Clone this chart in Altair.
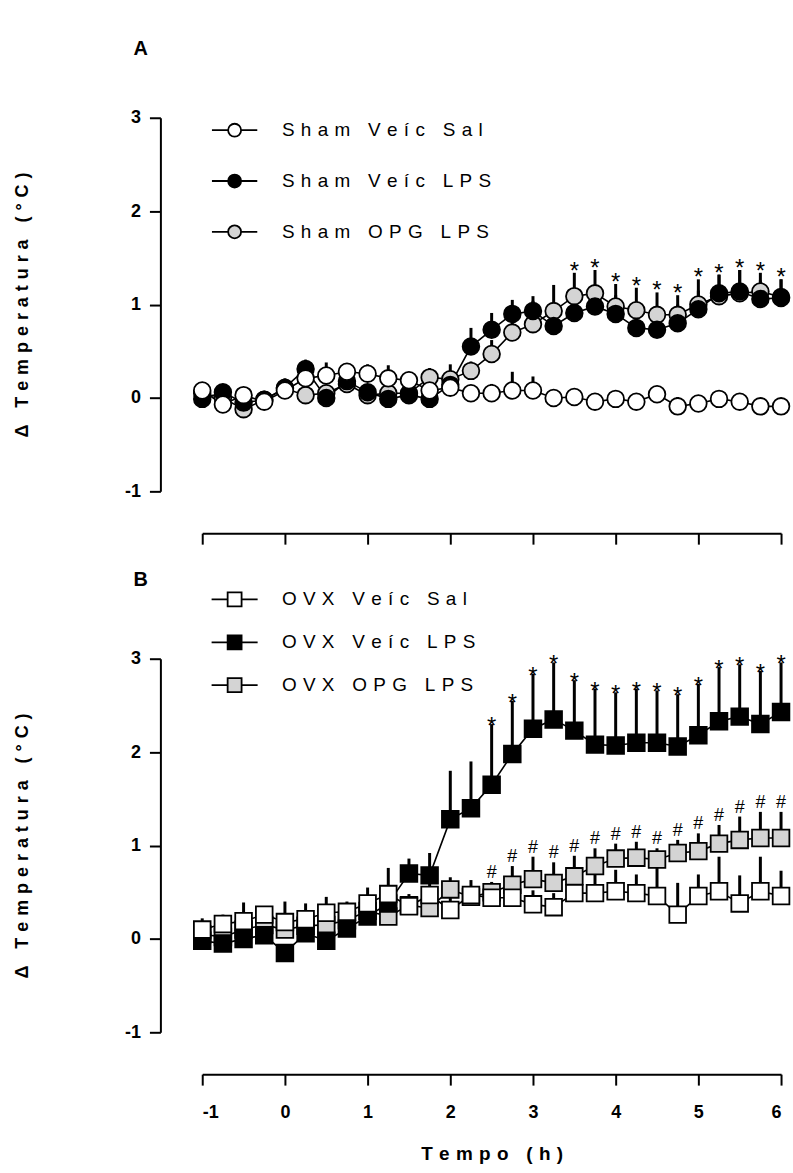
import altair as alt
import pandas as pd

# ---------------- data ----------------
time_h = [-1.0, -0.75, -0.5, -0.25, 0.0, 0.25, 0.5, 0.75, 1.0, 1.25, 1.5, 1.75, 2.0, 2.25,
          2.5, 2.75, 3.0, 3.25, 3.5, 3.75, 4.0, 4.25, 4.5, 4.75, 5.0, 5.25, 5.5, 5.75, 6.0]

names_a = ["Sham Veíc Sal", "Sham Veíc LPS", "Sham OPG LPS"]
names_b = ["OVX Veíc Sal", "OVX Veíc LPS", "OVX OPG LPS"]

sham_sal = [0.08, -0.07, 0.03, -0.04, 0.08, 0.21, 0.24, 0.28, 0.26, 0.21, 0.19, 0.08, 0.11, 0.05,
            0.05, 0.08, 0.08, 0.00, 0.01, -0.04, -0.01, -0.04, 0.04, -0.09, -0.06, -0.01, -0.04, -0.09, -0.09]
sham_sal_sem = [0.05, 0.03, 0.04, 0.03, 0.10, 0.08, 0.14, 0.08, 0.10, 0.14, 0.08, 0.08, 0.10, 0.06,
                0.10, 0.20, 0.15, 0.03, 0.03, 0.04, 0.03, 0.03, 0.03, 0.10, 0.08, 0.03, 0.03, 0.03, 0.03]
sham_lps = [-0.01, 0.06, -0.05, -0.02, 0.11, 0.31, 0.00, 0.18, 0.06, -0.01, 0.03, -0.01, 0.14, 0.55,
            0.73, 0.90, 0.93, 0.77, 0.91, 0.98, 0.90, 0.75, 0.73, 0.80, 0.95, 1.12, 1.14, 1.06, 1.07]
sham_lps_sem = [0.03, 0.05, 0.05, 0.03, 0.10, 0.10, 0.08, 0.10, 0.08, 0.08, 0.05, 0.05, 0.10, 0.20,
                0.18, 0.15, 0.16, 0.15, 0.20, 0.20, 0.20, 0.20, 0.20, 0.20, 0.20, 0.20, 0.23, 0.20, 0.20]
sham_opg = [0.05, 0.00, -0.12, -0.02, 0.10, 0.03, 0.05, 0.15, 0.03, 0.05, 0.05, 0.22, 0.20, 0.29,
            0.47, 0.70, 0.79, 0.93, 1.09, 1.12, 0.98, 0.94, 0.89, 0.89, 1.00, 1.09, 1.12, 1.14, 1.08]
sham_opg_sem = [0.05, 0.05, 0.05, 0.05, 0.08, 0.05, 0.08, 0.08, 0.05, 0.05, 0.08, 0.10, 0.16, 0.10,
                0.15, 0.20, 0.25, 0.28, 0.25, 0.25, 0.24, 0.24, 0.24, 0.21, 0.27, 0.23, 0.25, 0.20, 0.19]
sham_star_t = [3.5, 3.75, 4.0, 4.25, 4.5, 4.75, 5.0, 5.25, 5.5, 5.75, 6.0]

ovx_sal = [0.10, 0.16, 0.19, 0.26, 0.18, 0.21, 0.28, 0.29, 0.38, 0.48, 0.35, 0.47, 0.31, 0.47,
           0.44, 0.44, 0.37, 0.34, 0.49, 0.49, 0.51, 0.49, 0.46, 0.26, 0.46, 0.51, 0.38, 0.51, 0.46]
ovx_sal_sem = [0.12, 0.10, 0.20, 0.06, 0.22, 0.17, 0.17, 0.11, 0.17, 0.28, 0.13, 0.16, 0.15, 0.16,
               0.10, 0.10, 0.15, 0.15, 0.20, 0.20, 0.23, 0.20, 0.30, 0.34, 0.23, 0.37, 0.30, 0.37, 0.27]
ovx_lps = [-0.02, -0.05, 0.00, 0.04, -0.15, 0.06, -0.02, 0.11, 0.24, 0.38, 0.70, 0.68, 1.28, 1.40,
           1.65, 1.98, 2.25, 2.35, 2.23, 2.08, 2.07, 2.10, 2.10, 2.06, 2.18, 2.33, 2.38, 2.30, 2.43]
ovx_lps_sem = [0.05, 0.05, 0.05, 0.05, 0.08, 0.06, 0.05, 0.05, 0.06, 0.08, 0.16, 0.24, 0.52, 0.50,
               0.65, 0.57, 0.59, 0.61, 0.54, 0.60, 0.57, 0.58, 0.56, 0.56, 0.55, 0.58, 0.56, 0.57, 0.53]
ovx_opg = [0.05, 0.02, 0.10, 0.15, 0.10, 0.14, 0.15, 0.20, 0.30, 0.24, 0.36, 0.33, 0.53, 0.45,
           0.50, 0.58, 0.64, 0.60, 0.67, 0.78, 0.86, 0.87, 0.85, 0.92, 0.94, 1.02, 1.06, 1.08, 1.08]
ovx_opg_sem = [0.05, 0.05, 0.05, 0.05, 0.05, 0.05, 0.05, 0.05, 0.05, 0.05, 0.05, 0.05, 0.13, 0.10,
               0.11, 0.20, 0.24, 0.22, 0.22, 0.19, 0.16, 0.17, 0.12, 0.14, 0.19, 0.20, 0.25, 0.28, 0.28]
ovx_star_t = [2.5, 2.75, 3.0, 3.25, 3.5, 3.75, 4.0, 4.25, 4.5, 4.75, 5.0, 5.25, 5.5, 5.75, 6.0]
ovx_hash_t = [2.5, 2.75, 3.0, 3.25, 3.5, 3.75, 4.0, 4.25, 4.5, 4.75, 5.0, 5.25, 5.5, 5.75, 6.0]

x_ticks = [-1, 0, 1, 2, 3, 4, 5, 6]
y_ticks = [-1, 0, 1, 2, 3]

# ---------------- style ----------------
FONT = "Liberation Sans"
FILLS = ["white", "black", "#d4d4d4"]
SP = "\u2004"
YTITLE = SP.join(list("Δ Temperatura (°C)"))
XTITLE = SP.join(list("Tempo (h)"))
LEG_LABEL = "join(split(datum.label, ''), '\u2004')"

CIRCLE_LEG = "M-3.5,0L-1,0M1,0L3.5,0M1,0A1,1,0,1,1,-1,0A1,1,0,1,1,1,0Z"
SQUARE_LEG = "M-3.3,0L-1,0M1,0L3.3,0M-1,-1L1,-1L1,1L-1,1Z"

W, H = 581, 375


def series_df(names, means, sems):
    rows = []
    # drawing order: grey, black, white (white on top)
    for order, k in enumerate([2, 1, 0]):
        for t, m, e in zip(time_h, means[k], sems[k]):
            rows.append({"t": t, "m": m, "top": m + e, "s": names[k], "o": order})
    return pd.DataFrame(rows)


def sig_df(times, means_list, sems_list):
    rows = []
    for t in times:
        i = time_h.index(t)
        top = max(m[i] + e[i] for m, e in zip(means_list, sems_list))
        rows.append({"t": t, "y": top})
    return pd.DataFrame(rows)


def panel(names, means, sems, shape, leg_path, leg_size, leg_x, leg_y, row_pad, show_x):
    df = series_df(names, means, sems)
    xscale = alt.Scale(domain=[-1, 6], nice=False, zero=False)
    yscale = alt.Scale(domain=[-1, 3], nice=False, zero=False)
    common = dict(offset=42, tickSize=11, tickWidth=2, domainWidth=2,
                  domainColor="black", tickColor="black", grid=False)
    if show_x:
        xaxis = alt.Axis(values=x_ticks, labelFont=FONT, labelFontSize=18, labelFontWeight="bold",
                         labelColor="black", labelPadding=19, labelExpr="'' + datum.value",
                         title=XTITLE, titleFont=FONT, titleFontSize=19, titleFontWeight="bold",
                         titleColor="black", titlePadding=23, **common)
    else:
        xaxis = alt.Axis(values=x_ticks, labels=False, title=None, **common)
    yaxis = alt.Axis(values=y_ticks, labelFont=FONT, labelFontSize=18, labelFontWeight="bold",
                     labelColor="black", labelPadding=9, labelExpr="'' + datum.value",
                     title=YTITLE, titleFont=FONT, titleFontSize=18, titleFontWeight="bold",
                     titleColor="black", titlePadding=93, **common)

    base = alt.Chart(df)
    x = alt.X("t:Q", scale=xscale, axis=xaxis)
    y = alt.Y("m:Q", scale=yscale, axis=yaxis)

    rules = base.mark_rule(color="black", strokeWidth=3).encode(x=x, y=y, y2="top:Q")
    lines = base.mark_line(color="black", strokeWidth=1.6).encode(x=x, y=y, detail="s:N")
    pts = base.mark_point(filled=True, shape=shape, size=280, stroke="black",
                          strokeWidth=1.8, opacity=1).encode(
        x=x, y=y,
        fill=alt.Fill("s:N", scale=alt.Scale(domain=names, range=FILLS),
                      legend=alt.Legend(title=None, orient="none", legendX=leg_x,
                                        legendY=leg_y, symbolType=leg_path,
                                        symbolSize=leg_size, symbolStrokeColor="black",
                                        symbolStrokeWidth=1.8, labelFont=FONT,
                                        labelFontSize=19, labelColor="black", labelLimit=0,
                                        labelExpr=LEG_LABEL, labelOffset=38,
                                        rowPadding=row_pad, padding=0)),
        order=alt.Order("o:Q"))
    return rules, lines, pts, xscale, yscale


def sig_layer(df, symbol, size, dy, xscale, yscale):
    return alt.Chart(df).mark_text(text=symbol, font=FONT, fontSize=size, color="black",
                                   baseline="alphabetic", dy=dy).encode(
        x=alt.X("t:Q", scale=xscale), y=alt.Y("y:Q", scale=yscale))


def letter_title(txt, offset):
    return alt.TitleParams(txt, anchor="start", frame="group", dx=-69, offset=offset,
                           font=FONT, fontSize=20, fontWeight="bold", color="black")


# ---- panel A
means_a = [sham_sal, sham_lps, sham_opg]
sems_a = [sham_sal_sem, sham_lps_sem, sham_opg_sem]
ra, la, pa, xsa, ysa = panel(names_a, means_a, sems_a, "circle", CIRCLE_LEG, 169,
                             23, 3, 30, False)
stars_a = sig_layer(sig_df(sham_star_t, [sham_lps, sham_opg], [sham_lps_sem, sham_opg_sem]),
                    "*", 24, 6, xsa, ysa)
chart_a = alt.layer(ra, la, pa, stars_a).properties(
    width=W, height=H, title=letter_title("A", 50))

# ---- panel B
means_b = [ovx_sal, ovx_lps, ovx_opg]
sems_b = [ovx_sal_sem, ovx_lps_sem, ovx_opg_sem]
rb, lb, pb, xsb, ysb = panel(names_b, means_b, sems_b, "square", SQUARE_LEG, 196,
                             23, -69, 20, True)
stars_b = sig_layer(sig_df(ovx_star_t, [ovx_lps], [ovx_lps_sem]), "*", 24, 10, xsb, ysb)
hash_b = sig_layer(sig_df(ovx_hash_t, [ovx_opg], [ovx_opg_sem]), "#", 18, -4, xsb, ysb)
chart_b = alt.layer(rb, lb, pb, stars_b, hash_b).properties(
    width=W, height=H, title=letter_title("B", 0))

chart = alt.vconcat(chart_a, chart_b, spacing=25).resolve_scale(
    fill="independent").resolve_legend(fill="independent").properties(
    padding={"left": 13, "top": 37, "right": 0, "bottom": 0},
    background="white").configure_view(stroke=None)

chart.save("out.html", embed_options={"renderer": "svg", "actions": False})
